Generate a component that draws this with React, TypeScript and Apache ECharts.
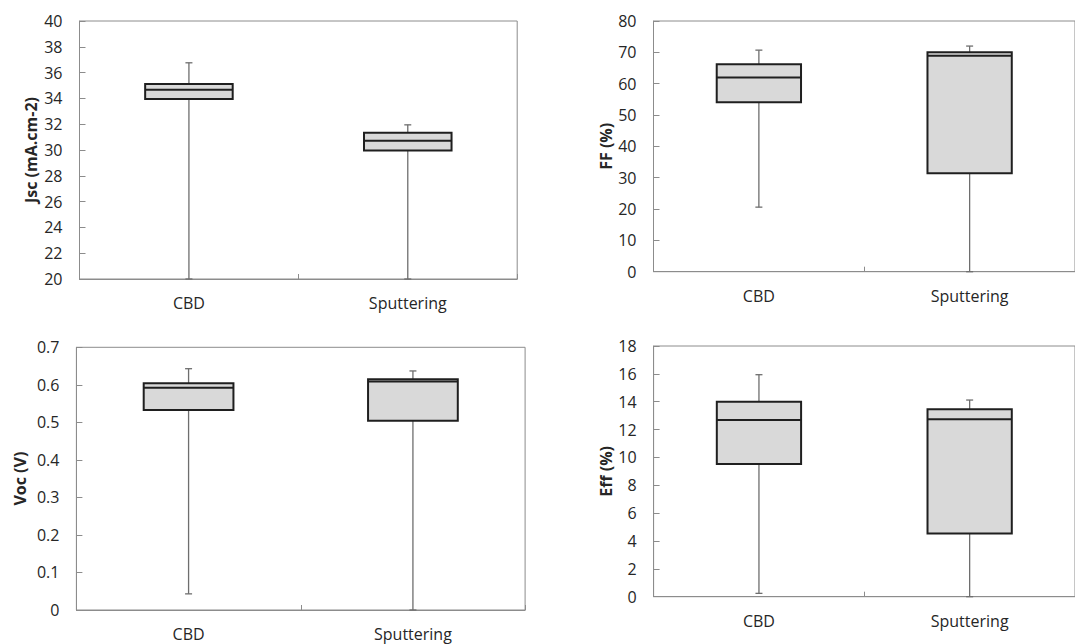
import React, { useEffect, useRef } from "react";
import * as echarts from "echarts";

// Box statistics per deposition method: [min, Q1, median, Q3, max]
const categories = ["CBD", "Sputtering"];

const jscCBD = [20, 33.95, 34.67, 35.11, 36.76];
const jscSputtering = [20, 29.97, 30.71, 31.33, 31.95];

const ffCBD = [20.6, 54.1, 62.0, 66.2, 70.7];
const ffSputtering = [0, 31.4, 68.9, 70.0, 72.0];

const vocCBD = [0.043, 0.533, 0.592, 0.604, 0.643];
const vocSputtering = [0, 0.504, 0.609, 0.615, 0.637];

const effCBD = [0.24, 9.53, 12.69, 14.0, 15.94];
const effSputtering = [0, 4.53, 12.74, 13.45, 14.12];

const FONT = "Open Sans";
const TEXT = "#262626";
const FRAME = "#8c8c8c";

type Panel = {
  name: string;
  min: number;
  max: number;
  interval: number;
  grid: { left: number; top: number; width: number; height: number };
  nameGap: number;
  stats: number[][];
};

const panels: Panel[] = [
  {
    name: "Jsc (mA.cm-2)",
    min: 20,
    max: 40,
    interval: 2,
    grid: { left: 79.5, top: 21, width: 437.7, height: 258 },
    nameGap: 41,
    stats: [jscCBD, jscSputtering],
  },
  {
    name: "FF (%)",
    min: 0,
    max: 80,
    interval: 10,
    grid: { left: 653.5, top: 21, width: 426.6, height: 250.7 },
    nameGap: 39,
    stats: [ffCBD, ffSputtering],
  },
  {
    name: "Voc (V)",
    min: 0,
    max: 0.7,
    interval: 0.1,
    grid: { left: 76.4, top: 347.3, width: 448.7, height: 262.7 },
    nameGap: 48,
    stats: [vocCBD, vocSputtering],
  },
  {
    name: "Eff (%)",
    min: 0,
    max: 18,
    interval: 2,
    grid: { left: 653.6, top: 346, width: 426.6, height: 250.7 },
    nameGap: 39,
    stats: [effCBD, effSputtering],
  },
];

function renderBox(_params: any, api: any) {
  const x = api.value(0);
  const pMin = api.coord([x, api.value(1)]);
  const pQ1 = api.coord([x, api.value(2)]);
  const pMed = api.coord([x, api.value(3)]);
  const pQ3 = api.coord([x, api.value(4)]);
  const pMax = api.coord([x, api.value(5)]);
  const band = api.size([1, 0])[0];
  const half = band * 0.2;
  const cx = pMin[0];
  const cap = 3.5;
  const whisker = { stroke: "#6e6e6e", lineWidth: 1.3 };
  return {
    type: "group",
    children: [
      { type: "line", shape: { x1: cx, y1: pMin[1], x2: cx, y2: pQ1[1] }, style: whisker },
      { type: "line", shape: { x1: cx, y1: pQ3[1], x2: cx, y2: pMax[1] }, style: whisker },
      { type: "line", shape: { x1: cx - cap, y1: pMin[1], x2: cx + cap, y2: pMin[1] }, style: whisker },
      { type: "line", shape: { x1: cx - cap, y1: pMax[1], x2: cx + cap, y2: pMax[1] }, style: whisker },
      {
        type: "rect",
        shape: { x: cx - half, y: pQ3[1], width: half * 2, height: pQ1[1] - pQ3[1] },
        style: { fill: "#d9d9d9", stroke: "#1f1f1f", lineWidth: 2 },
      },
      {
        type: "line",
        shape: { x1: cx - half, y1: pMed[1], x2: cx + half, y2: pMed[1] },
        style: { stroke: "#1f1f1f", lineWidth: 2 },
      },
    ],
  };
}

export default function App() {
  const ref = useRef<HTMLDivElement>(null);

  useEffect(() => {
    if (!ref.current) return;
    const chart = echarts.init(ref.current, undefined, { renderer: "svg" });
    chart.setOption({
      animation: false,
      backgroundColor: "#ffffff",
      textStyle: { fontFamily: FONT },
      grid: panels.map((p) => ({
        ...p.grid,
        show: true,
        borderColor: FRAME,
        borderWidth: 1,
        containLabel: false,
      })),
      xAxis: panels.map((_, i) => ({
        type: "category",
        gridIndex: i,
        data: categories,
        boundaryGap: true,
        axisLine: { lineStyle: { color: FRAME, width: 1 } },
        axisTick: { show: true, inside: true, length: 5, interval: 0, lineStyle: { color: FRAME } },
        axisLabel: { color: TEXT, fontSize: 16, fontFamily: FONT, margin: 16, interval: 0 },
        splitLine: { show: false },
      })),
      yAxis: panels.map((p, i) => ({
        type: "value",
        gridIndex: i,
        min: p.min,
        max: p.max,
        interval: p.interval,
        name: p.name,
        nameLocation: "middle",
        nameGap: p.nameGap,
        nameTextStyle: { color: TEXT, fontSize: 16, fontWeight: "bold", fontFamily: FONT },
        axisLine: { show: true, lineStyle: { color: FRAME, width: 1 } },
        axisTick: { show: true, inside: true, length: 6, lineStyle: { color: FRAME } },
        axisLabel: { color: TEXT, fontSize: 16, fontFamily: FONT, margin: 17 },
        splitLine: { show: false },
      })),
      series: panels.map((p, i) => ({
        type: "custom",
        xAxisIndex: i,
        yAxisIndex: i,
        renderItem: renderBox,
        encode: { x: 0, y: [1, 2, 3, 4, 5] },
        data: p.stats.map((s, k) => [k, ...s]),
      })),
    });
    return () => chart.dispose();
  }, []);

  return (
    <div
      ref={ref}
      style={{ position: "fixed", left: 0, top: 0, width: 1075, height: 644, background: "#fff" }}
    />
  );
}
